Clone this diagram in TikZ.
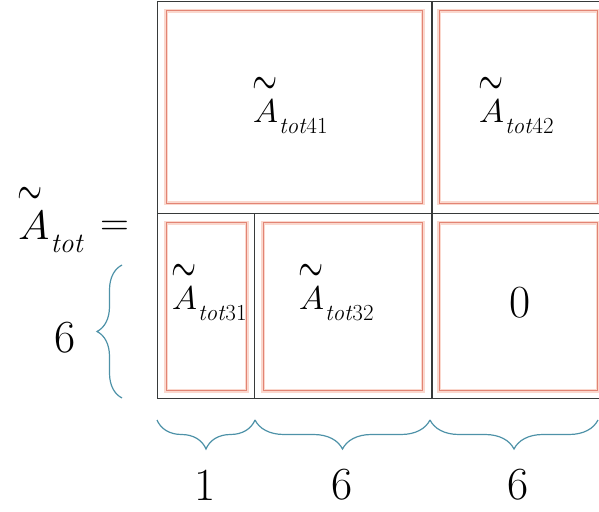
\documentclass[tikz,border=0pt]{standalone}
\usetikzlibrary{decorations.pathreplacing}

\definecolor{gridgray}{RGB}{55,58,58}
\definecolor{blockred}{RGB}{226,132,116}
\definecolor{blockpink}{RGB}{250,216,206}
\definecolor{bracecol}{RGB}{78,146,168}

% italic A with a wide tilde above it
\newcommand{\tildeA}{\makebox[0pt][l]{\hspace{0.0em}\raisebox{0.84em}{\scalebox{1.3}[2.0]{$\sim$}}}\scalebox{1.12}[1]{\textit{A}}}
% A-tilde with a lowered subscript of the given size
\newcommand{\blocksym}[2]{\tildeA\raisebox{-0.31em}{\fontsize{#1}{#1}\selectfont\textit{tot}#2}}

\begin{document}
\begin{tikzpicture}[x=1pt,y=1pt,
  gridline/.style={draw=gridgray, line width=1.1pt},
  blockbox/.style={draw=blockred, line width=1.0pt,
    preaction={draw=blockpink, line width=3.8pt}},
  blocklabel/.style={inner sep=0pt, anchor=base west,
    font=\fontsize{33}{39}\selectfont},
  numlabel/.style={inner sep=0pt, font=\fontsize{46}{54}\selectfont},
  bracepath/.style={draw=bracecol, line width=1.2pt, decorate}
]
\useasboundingbox (0,0) rectangle (599,511);
\clip (0,0) rectangle (599,511);

% inner blocks
\draw[blockbox] (166,307.7) rectangle (422.7,500.3);
\draw[blockbox] (439.3,307.7) rectangle (597.5,500.3);
\draw[blockbox] (166,120.3) rectangle (246.7,288.3);
\draw[blockbox] (263.3,120.3) rectangle (422.7,288.3);
\draw[blockbox] (439.3,120.3) rectangle (597.5,288.3);

% partition of the matrix
\draw[gridline] (605,509.3) -- (157.3,509.3) -- (157.3,112.5) -- (605,112.5);
\draw[gridline] (157.3,297.7) -- (605,297.7);
\draw[gridline] (432,509.3) -- (432,112.5);
\draw[gridline] (254.3,297.7) -- (254.3,112.5);

% block labels
\node[blocklabel] (a41) at (252,388) {\blocksym{23}{41}};
\node[blocklabel] (a42) at (478,388) {\blocksym{23}{42}};
\node[blocklabel] (a31) at (171,201) {\blocksym{23}{31}};
\node[blocklabel] (a32) at (298,201) {\blocksym{23}{32}};
\node[numlabel] (zero) at (520,208) {0};

% left-hand side
\node[inner sep=0pt, anchor=base west, font=\fontsize{41}{49}\selectfont]
  (lhs) at (17,271) {\blocksym{28}{}};
\node[inner sep=0pt, font=\fontsize{40}{48}\selectfont] (eq) at (115,282.5) {=};

% row size brace
\coordinate (lb1) at (122,113);
\coordinate (lb2) at (122,246);
\draw[bracepath, decoration={brace, amplitude=25pt}] (lb1) -- (lb2);
\node[numlabel] (rows) at (65.5,173.5) {6};

% column size braces
\coordinate (cb0) at (157,91);
\coordinate (cb1) at (255,91);
\coordinate (cb2) at (430,91);
\coordinate (cb3) at (598,91);
\draw[bracepath, decoration={brace, amplitude=29pt}] (cb1) -- (cb0);
\draw[bracepath, decoration={brace, amplitude=29pt}] (cb2) -- (cb1);
\draw[bracepath, decoration={brace, amplitude=29pt}] (cb3) -- (cb2);
\node[numlabel] (c1) at (205,26) {1};
\node[numlabel] (c2) at (342,26) {6};
\node[numlabel] (c3) at (518,26) {6};
\end{tikzpicture}
\end{document}
